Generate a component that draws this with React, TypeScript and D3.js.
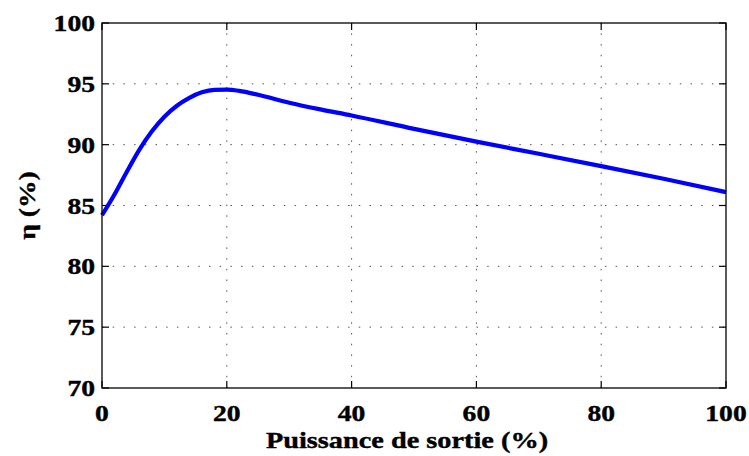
import React from "react";
import * as d3 from "d3";

const xValues = [0, 2, 4, 6, 8, 10, 12, 14, 16, 18, 20, 22, 25, 30, 35, 40, 50, 60, 70, 80, 90, 100];
const efficiency = [84.2, 85.9, 87.8, 89.6, 91.1, 92.3, 93.2, 93.85, 94.3, 94.5, 94.52, 94.42, 94.1, 93.45, 92.9, 92.4, 91.3, 90.25, 89.25, 88.24, 87.2, 86.1];
const xTicks = [0, 20, 40, 60, 80, 100];
const yTicks = [70, 75, 80, 85, 90, 95, 100];
const xLabel = "Puissance de sortie (%)";
const yLabel = "η (%)";

const W = 749;
const H = 456;
const m = { left: 102, right: 23, top: 23, bottom: 68 };

export default function App() {
  const x = d3.scaleLinear().domain([0, 100]).range([m.left, W - m.right]);
  const y = d3.scaleLinear().domain([70, 100]).range([H - m.bottom, m.top]);
  const line = d3
    .line<number>()
    .x((_, i) => x(xValues[i]))
    .y((d) => y(d))
    .curve(d3.curveMonotoneX);
  const font = "'Liberation Serif', 'Times New Roman', serif";
  const x0 = x(0), x1 = x(100), y0 = y(70), y1 = y(100);
  const tl = 7;
  const sx = 1.2;
  const textStyle = { fontFamily: font, fontWeight: "bold" as const, stroke: "#000", strokeWidth: 0.4 };
  return (
    <svg width={W} height={H} style={{ position: "absolute", left: 0, top: 0, background: "#fff" }}>
      <rect x={0} y={0} width={W} height={H} fill="#fff" />
      {/* grid */}
      {xTicks.slice(1, -1).map((t) => (
        <line key={"gx" + t} x1={x(t)} x2={x(t)} y1={y0} y2={y1} stroke="#555" strokeWidth={1} strokeDasharray="1.5 9.2" />
      ))}
      {yTicks.slice(1, -1).map((t) => (
        <line key={"gy" + t} x1={x0} x2={x1} y1={y(t)} y2={y(t)} stroke="#555" strokeWidth={1} strokeDasharray="1.5 9.2" />
      ))}
      {/* ticks */}
      {xTicks.map((t) => (
        <g key={"tx" + t}>
          <line x1={x(t)} x2={x(t)} y1={y0} y2={y0 - tl} stroke="#000" strokeWidth={1.2} />
          <line x1={x(t)} x2={x(t)} y1={y1} y2={y1 + tl} stroke="#000" strokeWidth={1.2} />
          <text transform={`translate(${x(t)}, 421) scale(${sx}, 1)`} textAnchor="middle" fontSize={23} style={textStyle}>{t}</text>
        </g>
      ))}
      {yTicks.map((t) => (
        <g key={"ty" + t}>
          <line x1={x0} x2={x0 + tl} y1={y(t)} y2={y(t)} stroke="#000" strokeWidth={1.2} />
          <line x1={x1} x2={x1 - tl} y1={y(t)} y2={y(t)} stroke="#000" strokeWidth={1.2} />
          <text transform={`translate(95, ${y(t)}) scale(${sx}, 1)`} dy="0.35em" textAnchor="end" fontSize={23} style={textStyle}>{t}</text>
        </g>
      ))}
      {/* data line */}
      <path d={line(efficiency) || ""} fill="none" stroke="#0000ff" strokeWidth={4.2} strokeLinejoin="round" />
      {/* box */}
      <rect x={x0} y={y1} width={x1 - x0} height={y0 - y1} fill="none" stroke="#000" strokeWidth={1.3} />
      {/* labels */}
      <text transform={`translate(407, 448) scale(1.18, 1)`} textAnchor="middle" fontSize={24} style={textStyle}>{xLabel}</text>
      <text transform={`translate(35, ${(y0 + y1) / 2}) rotate(-90) scale(${sx}, 1)`} textAnchor="middle" fontSize={23} style={textStyle}>{yLabel}</text>
    </svg>
  );
}
